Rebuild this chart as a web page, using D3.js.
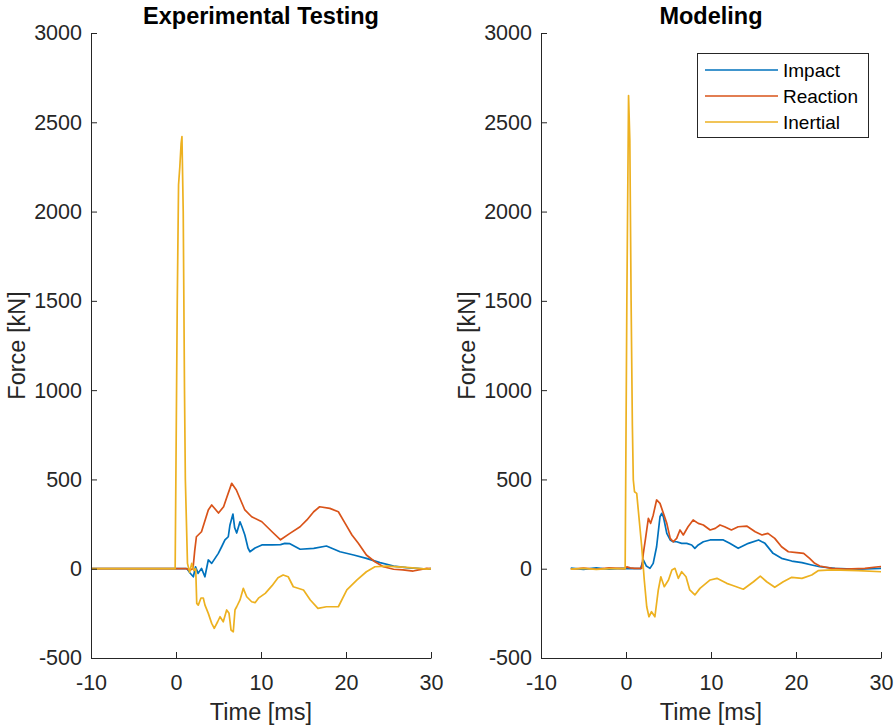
<!DOCTYPE html>
<html><head><meta charset="utf-8">
<script src="https://cdn.jsdelivr.net/npm/d3@7"></script>
<style>
body{margin:0;background:#fff}
svg{display:block}
text{font-family:"Liberation Sans",Arial,Helvetica,sans-serif;fill:#262626}
</style>
</head><body>
<svg id="chart" width="896" height="728"></svg>
<script>
// ---------- data ----------
const xTicks = [-10, 0, 10, 20, 30];
const yTicks = [-500, 0, 500, 1000, 1500, 2000, 2500, 3000];
const seriesNames = ["Impact", "Reaction", "Inertial"];
const seriesColors = ["#0072BD", "#D95319", "#EDB120"];
const panelTitles = ["Experimental Testing", "Modeling"];
const xLabelText = "Time [ms]";
const yLabelText = "Force [kN]";

// Experimental Testing: [time ms, force kN]
const expImpact = [[-10,0],[1.3,0],[1.65,-24],[2.04,-45],[2.3,11],[2.6,-26],[3.0,2],[3.4,-45],[3.8,49],[4.2,30],[4.59,58],[4.98,86],[5.37,123],[5.76,161],[6.15,179],[6.35,245],[6.7,306],[6.9,230],[7.14,200],[7.53,263],[7.76,235],[8.1,189],[8.47,116],[8.7,95],[9.3,116],[10.1,133],[11.3,133],[12.3,135],[12.8,142],[13.4,140],[14.6,109],[16.2,114],[17.7,127],[19.3,95],[20.9,77],[22.4,58],[24,34],[25.6,15],[27.1,6],[29.5,-2],[30,0]];
const expReaction = [[-10,0],[1.2,0],[1.6,-8],[2.0,0],[2.2,100],[2.4,179],[3.0,207],[3.8,329],[4.2,357],[5.0,312],[5.6,347],[6.0,403],[6.55,478],[7.1,441],[8.1,329],[8.9,291],[10.1,263],[11.3,207],[12.3,162],[13.4,198],[14.6,235],[15.4,273],[16.2,319],[16.9,347],[18.1,338],[19.1,319],[19.9,254],[20.7,189],[21.45,142],[22.4,77],[23.4,39],[24.4,11],[25.6,-3],[26.7,-7],[27.9,-13],[29.5,2],[30,0]];
const expInertial = [[-10,0],[-0.1,0],[0.15,1500],[0.3,2150],[0.45,2250],[0.6,2380],[0.7,2420],[0.85,2000],[1.0,1000],[1.1,500],[1.35,30],[1.6,-20],[1.85,30],[2.1,-10],[2.32,0],[2.44,-194],[2.62,-204],[2.94,-164],[3.21,-164],[3.41,-204],[3.8,-250],[4.2,-306],[4.5,-334],[4.9,-297],[5.18,-269],[5.56,-297],[5.96,-231],[6.24,-250],[6.47,-343],[6.74,-353],[6.94,-231],[7.14,-213],[7.53,-175],[7.92,-110],[8.32,-157],[8.9,-185],[9.3,-190],[9.7,-165],[10.5,-138],[11.3,-95],[12.0,-50],[12.6,-35],[13.2,-45],[13.8,-101],[15.0,-119],[15.8,-175],[16.7,-222],[17.7,-213],[19.1,-213],[20.1,-119],[21.3,-63],[22.4,-17],[23.4,11],[24.8,15],[27.1,8],[29.5,-2],[30,0]];

// Modeling: [time ms, force kN]
const modImpact = [[-6.5,3],[-5,-4],[-3.5,5],[-2,-3],[-0.5,2],[1.7,0],[2.04,49],[2.4,15],[2.82,2],[3.2,30],[3.6,123],[4.0,291],[4.2,310],[4.4,291],[4.8,198],[5.2,161],[5.56,151],[5.96,151],[6.55,142],[7.14,142],[7.73,133],[8.1,114],[8.5,133],[9.1,151],[9.9,161],[10.7,161],[11.45,161],[12.2,142],[13.2,114],[14.4,142],[15.6,161],[16.35,142],[17.3,86],[18.3,58],[19.5,43],[20.7,34],[21.85,21],[22.8,11],[24.6,2],[27.3,-3],[30,2]];
const modReaction = [[-6.5,-3],[-5,4],[-3.5,-3],[-2,5],[-0.2,0],[0.1,10],[0.5,5],[1.0,2],[1.85,2],[2.04,86],[2.3,170],[2.63,282],[2.9,254],[3.2,300],[3.6,385],[4.0,366],[4.4,310],[4.8,254],[5.2,170],[5.56,151],[5.96,170],[6.35,217],[6.74,189],[7.3,235],[7.9,273],[8.5,254],[9.1,245],[9.9,217],[10.5,226],[11.06,245],[11.6,235],[12.4,217],[13.2,235],[14.2,239],[15.2,207],[16.0,189],[16.7,198],[17.5,170],[18.3,123],[19.1,95],[20.1,90],[20.9,86],[21.6,58],[22.2,30],[22.8,15],[24.2,2],[25.8,-2],[28.1,2],[29.7,11],[30,12]];
const modInertial = [[-6.5,-2],[-5,2],[-3.5,-4],[-2,0],[-0.1,0],[0.1,1500],[0.3,2650],[0.45,2400],[0.6,1500],[0.75,800],[0.86,497],[1.0,431],[1.26,422],[1.85,123],[2.15,-63],[2.44,-213],[2.7,-269],[3.0,-241],[3.4,-269],[3.8,-119],[4.1,-45],[4.5,-101],[5.0,-63],[5.4,-7],[5.76,2],[6.15,-54],[6.55,-17],[7.06,-45],[7.5,-119],[8.1,-147],[8.7,-110],[9.9,-63],[10.7,-54],[11.85,-82],[12.4,-91],[13.8,-115],[15.0,-73],[15.8,-41],[16.55,-73],[17.5,-104],[18.5,-73],[19.5,-48],[20.7,-54],[21.85,-35],[22.6,-11],[24.2,-7],[27.3,-11],[30,-17]];

// ---------- layout ----------
const svg = d3.select("#chart");
const plotTop = 33, plotBottom = 658, plotW = 340;
const panelLefts = [91, 541];
const panelData = [[expImpact, expReaction, expInertial], [modImpact, modReaction, modInertial]];
const tickFont = 21.5, labelFont = 23.5, legendFont = 19;
const fmt = d => String(d);

panelLefts.forEach((left, p) => {
  const x = d3.scaleLinear().domain([xTicks[0], xTicks[xTicks.length-1]]).range([left, left + plotW]);
  const y = d3.scaleLinear().domain([yTicks[0], yTicks[yTicks.length-1]]).range([plotBottom, plotTop]);
  const g = svg.append("g");

  const line = d3.line().x(d => x(d[0])).y(d => y(d[1]));
  panelData[p].forEach((s, i) => {
    g.append("path").datum(s).attr("d", line)
      .attr("fill", "none").attr("stroke", seriesColors[i])
      .attr("stroke-width", 1.7).attr("stroke-linejoin", "round");
  });

  const xa = g.append("g").attr("transform", `translate(0,${plotBottom})`)
    .call(d3.axisBottom(x).tickValues(xTicks).tickSize(-6).tickSizeOuter(0).tickPadding(17).tickFormat(fmt));
  const ya = g.append("g").attr("transform", `translate(${left},0)`)
    .call(d3.axisLeft(y).tickValues(yTicks).tickSize(-6).tickSizeOuter(0).tickPadding(9).tickFormat(fmt));
  [xa, ya].forEach(a => {
    a.select(".domain").attr("stroke", "#262626").attr("stroke-width", 1);
    a.selectAll(".tick line").attr("stroke", "#262626").attr("stroke-width", 1);
    a.selectAll(".tick text").attr("font-size", tickFont).attr("fill", "#262626")
      .style("font-family", '"Liberation Sans",Arial,sans-serif');
  });

  g.append("text").attr("x", left + plotW/2).attr("y", 24).attr("text-anchor", "middle")
    .attr("font-size", labelFont).attr("font-weight", "bold").style("fill", "#000").text(panelTitles[p]);
  g.append("text").attr("x", left + plotW/2).attr("y", 720).attr("text-anchor", "middle")
    .attr("font-size", labelFont).text(xLabelText);
  g.append("text").attr("transform", `translate(${left - 66},${(plotTop+plotBottom)/2}) rotate(-90)`)
    .attr("text-anchor", "middle").attr("font-size", labelFont).text(yLabelText);

  if (p === 1) {
    const lg = g.append("g");
    lg.append("rect").attr("x", 697.5).attr("y", 53.5).attr("width", 171).attr("height", 84)
      .attr("fill", "#fff").attr("stroke", "#262626").attr("stroke-width", 1);
    seriesNames.forEach((n, i) => {
      const yy = 70 + i * 26;
      lg.append("line").attr("x1", 705).attr("x2", 778).attr("y1", yy).attr("y2", yy)
        .attr("stroke", seriesColors[i]).attr("stroke-width", 1.7);
      lg.append("text").attr("x", 783).attr("y", yy).attr("dy", "0.35em")
        .attr("font-size", legendFont).style("fill", "#000").text(n);
    });
  }
});
</script>
</body></html>
